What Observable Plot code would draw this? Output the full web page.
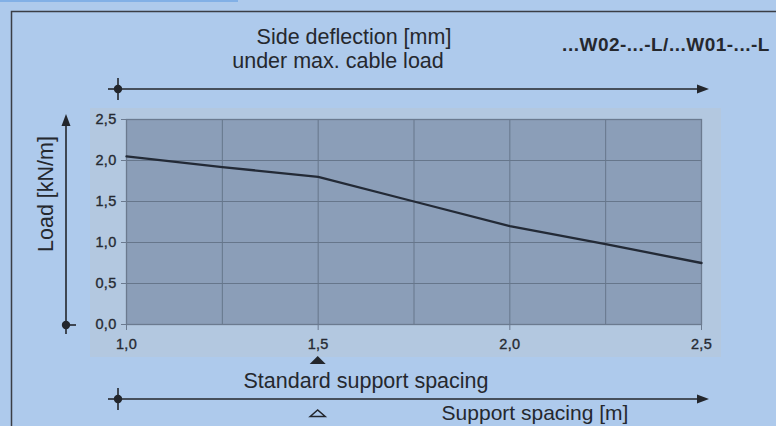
<!DOCTYPE html>
<html>
<head>
<meta charset="utf-8">
<script src="https://cdn.jsdelivr.net/npm/d3@7"></script>
<script src="https://cdn.jsdelivr.net/npm/@observablehq/plot@0.6"></script>
<style>
  html, body { margin: 0; padding: 0; background: #aecaec; }
  #chart { width: 776px; height: 426px; overflow: hidden; }
</style>
</head>
<body>
<div id="chart"></div>
<script>
// Data
const spacing = [1.0, 1.25, 1.5, 1.75, 2.0, 2.25, 2.5];      // Support spacing [m]
const load    = [2.05, 1.92, 1.80, 1.50, 1.20, 0.98, 0.75];  // Load [kN/m]
const xTicks = [1.0, 1.5, 2.0, 2.5];
const xGrid  = [1.25, 1.5, 1.75, 2.0, 2.25];
const yTicks = [0, 0.5, 1.0, 1.5, 2.0, 2.5];
const yGrid  = [0.5, 1.0, 1.5, 2.0];
const titleLines = ["Side deflection [mm]", "under max. cable load"];
const productLabel = "...W02-...-L/...W01-...-L";
const yLabel = "Load [kN/m]";
const stdLabel = "Standard support spacing";
const xLabel = "Support spacing [m]";
const standardSpacing = 1.5;

const data = spacing.map((s, i) => ({ s, v: load[i] }));
const comma = d => d.toFixed(1).replace(".", ",");

const chart = Plot.plot({
  width: 776,
  height: 426,
  marginLeft: 126,
  marginRight: 75,
  marginTop: 119,
  marginBottom: 102,
  style: { background: "transparent", fontFamily: "'Liberation Sans', Arial, sans-serif", fontSize: "14.5px", color: "#262a32" },
  x: { domain: [1, 2.5] },
  y: { domain: [0, 2.5] },
  marks: [
    Plot.frame({ fill: "#8b9eb8" }),
    Plot.gridX(xGrid, { stroke: "#66768b", strokeOpacity: 1 }),
    Plot.gridY(yGrid, { stroke: "#66768b", strokeOpacity: 1 }),
    Plot.frame({ stroke: "#6b7a8f", strokeWidth: 1.3 }),
    Plot.axisY(yTicks, { tickFormat: comma, tickSize: 5, tickPadding: 5, stroke: "#6b7a8f", fill: "#262a32", label: null }),
    Plot.axisX(xTicks, { tickFormat: comma, tickSize: 6, tickPadding: 8, stroke: "#6b7a8f", fill: "#262a32", label: null }),
    Plot.line(data, { x: "s", y: "v", stroke: "#232a36", strokeWidth: 2.3 })
  ]
});

document.getElementById("chart").appendChild(chart);

// Decorations (frame, arrows, annotations)
const svg = d3.select(chart);
// slightly heavier tick labels, as in the reference
svg.selectAll("text")
  .filter(function () { return /^\d,\d$/.test(this.textContent.trim()); })
  .style("stroke", "#262a32")
  .style("stroke-width", "0.35px")
  .style("letter-spacing", "0.3px");
const xS = chart.scale("x");
const ink = "#23262c";

// lighter panel behind the axes
svg.insert("rect", ":first-child")
  .attr("x", 90).attr("y", 108).attr("width", 631).attr("height", 249)
  .attr("fill", "#b3c8e0");
// top strip
svg.insert("rect", ":first-child")
  .attr("x", 0).attr("y", 0).attr("width", 238).attr("height", 2)
  .attr("fill", "#82b0e6");

const deco = svg.append("g");
// outer frame
deco.append("path").attr("d", "M11.5,430 V11.5 H780")
  .attr("fill", "none").attr("stroke", "#3a3e46").attr("stroke-width", 1.5);

function hArrow(y) {
  deco.append("line").attr("x1", 118).attr("x2", 700).attr("y1", y).attr("y2", y)
    .attr("stroke", ink).attr("stroke-width", 1.6);
  deco.append("path").attr("d", `M697,${y - 4.5} L709,${y} L697,${y + 4.5} Z`).attr("fill", ink);
  deco.append("line").attr("x1", 118).attr("x2", 118).attr("y1", y - 11).attr("y2", y + 11)
    .attr("stroke", ink).attr("stroke-width", 1.6);
  deco.append("line").attr("x1", 108).attr("x2", 118).attr("y1", y).attr("y2", y)
    .attr("stroke", ink).attr("stroke-width", 1.6);
  deco.append("circle").attr("cx", 118).attr("cy", y).attr("r", 4.2).attr("fill", ink);
}
hArrow(89);
hArrow(399);

// vertical arrow (load)
deco.append("line").attr("x1", 66).attr("x2", 66).attr("y1", 325).attr("y2", 124)
  .attr("stroke", ink).attr("stroke-width", 1.6);
deco.append("path").attr("d", "M61.5,126 L66,114 L70.5,126 Z").attr("fill", ink);
deco.append("line").attr("x1", 66).attr("x2", 76).attr("y1", 325).attr("y2", 325)
  .attr("stroke", ink).attr("stroke-width", 1.6);
deco.append("line").attr("x1", 66).attr("x2", 66).attr("y1", 325).attr("y2", 334)
  .attr("stroke", ink).attr("stroke-width", 1.6);
deco.append("circle").attr("cx", 66).attr("cy", 325).attr("r", 4.2).attr("fill", ink);

// standard spacing markers
const sx = xS.apply(standardSpacing);
deco.append("path").attr("d", `M${sx - 8},364 L${sx},356 L${sx + 8},364 Z`).attr("fill", ink);
deco.append("path").attr("d", `M${sx - 7.5},416.5 L${sx},410 L${sx + 7.5},416.5 Z`)
  .attr("fill", "none").attr("stroke", ink).attr("stroke-width", 1.5);

function label(txt, x, y, opts = {}) {
  const t = deco.append("text").text(txt)
    .attr("x", x).attr("y", y)
    .attr("text-anchor", opts.anchor || "middle")
    .attr("font-family", "'Liberation Sans', Arial, sans-serif")
    .attr("font-size", opts.size || 21.5)
    .attr("font-weight", opts.weight || "normal")
    .attr("fill", "#25282e");
  if (opts.ls) t.attr("letter-spacing", opts.ls);
  if (opts.transform) t.attr("transform", opts.transform);
  return t;
}
label(titleLines[0], 354, 44);
label(titleLines[1], 338, 68);
label(productLabel, 666, 51, { size: 19, weight: "bold", ls: 0.5 });
label(stdLabel, 366, 388);
label(xLabel, 535, 420, { size: 21 });
label(yLabel, 0, 0, { transform: "translate(53,194) rotate(-90)" });
</script>
</body>
</html>
